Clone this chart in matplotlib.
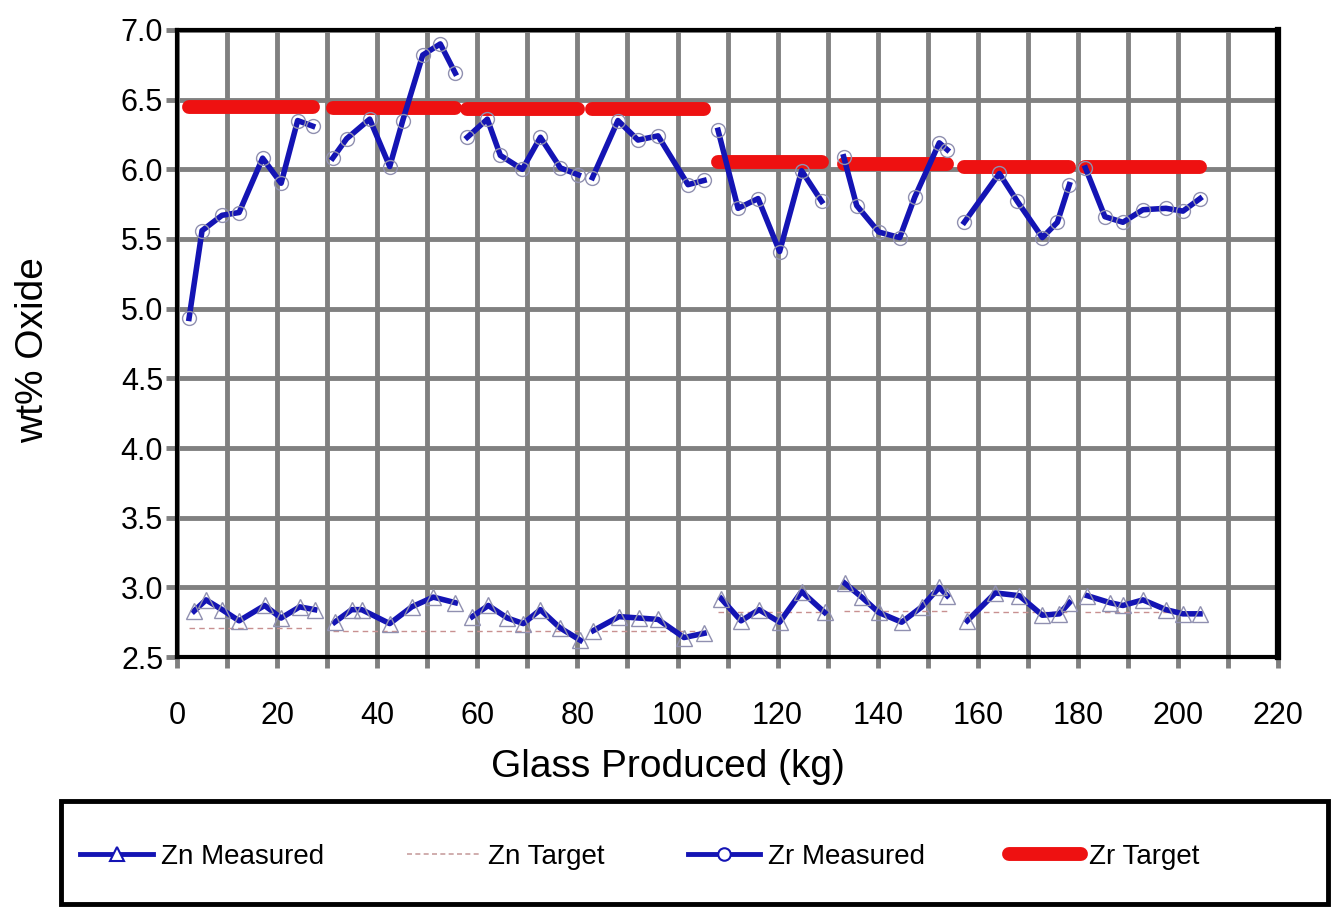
import numpy as np
import matplotlib
matplotlib.use('Agg')
import matplotlib.pyplot as plt
from matplotlib.lines import Line2D
from matplotlib.patches import Rectangle

plt.rcParams['font.family'] = ['Liberation Sans', 'DejaVu Sans']

# Zr measured, one list per batch
zr_x = [[2.4, 5.0, 9.0, 12.4, 17.1, 20.8, 24.1, 27.1],
        [31.1, 33.9, 38.5, 42.5, 45.1, 49.1, 52.6, 55.6],
        [58.0, 62.0, 64.6, 69.0, 72.6, 76.6, 80.2],
        [83.0, 88.1, 92.1, 96.1, 102.1, 105.3],
        [108.1, 112.1, 116.1, 120.4, 124.8, 128.8],
        [133.2, 135.8, 140.2, 144.4, 147.4, 152.3, 153.9],
        [157.3, 164.3, 167.9, 172.9, 175.9, 178.3],
        [181.5, 185.4, 189.0, 193.0, 197.6, 201.0, 204.4]]
zr_y = [[4.93, 5.56, 5.67, 5.69, 6.08, 5.90, 6.35, 6.31],
        [6.08, 6.22, 6.36, 6.02, 6.35, 6.82, 6.90, 6.69],
        [6.23, 6.36, 6.10, 6.00, 6.23, 6.01, 5.96],
        [5.94, 6.35, 6.21, 6.24, 5.89, 5.92],
        [6.28, 5.72, 5.79, 5.41, 5.99, 5.77],
        [6.09, 5.74, 5.55, 5.51, 5.80, 6.19, 6.14],
        [5.62, 5.97, 5.77, 5.51, 5.62, 5.89],
        [6.01, 5.66, 5.62, 5.71, 5.72, 5.70, 5.79]]

# Zn measured, one list per batch
zn_x = [[3.4, 5.8, 9.0, 12.4, 17.5, 20.8, 24.5, 27.5],
        [31.5, 34.9, 36.9, 42.5, 46.9, 51.2, 55.6],
        [59.0, 62.2, 66.0, 69.2, 72.6, 76.5, 80.6],
        [83.2, 88.3, 92.3, 96.1, 101.3, 105.3],
        [108.7, 112.7, 116.3, 120.4, 124.8, 129.4],
        [133.4, 136.8, 140.2, 144.8, 148.8, 152.3, 153.9],
        [157.9, 163.5, 168.3, 172.9, 176.3, 178.3],
        [181.9, 186.4, 189.0, 193.0, 197.6, 201.0, 204.4]]
zn_y = [[2.83, 2.91, 2.84, 2.76, 2.87, 2.78, 2.86, 2.84],
        [2.75, 2.84, 2.84, 2.74, 2.86, 2.93, 2.89],
        [2.79, 2.87, 2.78, 2.74, 2.84, 2.71, 2.62],
        [2.69, 2.79, 2.78, 2.77, 2.64, 2.67],
        [2.92, 2.76, 2.84, 2.75, 2.97, 2.82],
        [3.03, 2.93, 2.82, 2.75, 2.86, 3.00, 2.94],
        [2.76, 2.96, 2.94, 2.80, 2.81, 2.89],
        [2.94, 2.89, 2.87, 2.91, 2.84, 2.81, 2.81]]

# batch targets
zr_target = [6.45, 6.44, 6.43, 6.43, 6.05, 6.04, 6.02, 6.02]
zn_target = [2.71, 2.69, 2.69, 2.69, 2.82, 2.83, 2.82, 2.82]

blue = '#1414b4'
red = '#ee1111'

fig = plt.figure(figsize=(13.33, 9.08), dpi=100)
ax = fig.add_axes([0.1328, 0.2764, 0.8260, 0.6906])

for i in range(len(zr_x)):
    x0, x1 = zr_x[i][0], zr_x[i][-1]
    ax.plot([x0, x1], [zn_target[i], zn_target[i]], ls=(0, (4, 3)), lw=1.0,
            color='#c89090', zorder=3)
    ax.plot([x0, x1], [zr_target[i], zr_target[i]], lw=10, color=red,
            solid_capstyle='round', zorder=4)
    ax.plot(zn_x[i], zn_y[i], color=blue, lw=4, marker='^', ms=11,
            mfc='none', mec='#9090b0', mew=1.0, zorder=5)
    ax.plot(zr_x[i], zr_y[i], color=blue, lw=4, marker='o', ms=10,
            mfc='none', mec='#9090b0', mew=1.0, zorder=5)

ax.set_xlim(0, 220)
ax.set_ylim(2.5, 7.0)
ax.set_xticks(np.arange(0, 221, 20))
ax.set_xticks(np.arange(10, 220, 20), minor=True)
ax.set_yticks(np.arange(2.5, 7.01, 0.5))
ax.set_yticklabels(['%.1f' % v for v in np.arange(2.5, 7.01, 0.5)])
ax.grid(True, which='both', color='#808080', lw=3.5, zorder=1)
ax.set_axisbelow(True)
ax.tick_params(which='both', direction='out', length=8, width=3.5,
               color='#808080', labelsize=22, pad=2)
ax.tick_params(axis='x', pad=24)

for s in ['left', 'bottom', 'top']:
    ax.spines[s].set_linewidth(3)
ax.spines['right'].set_linewidth(4.5)
for s in ax.spines.values():
    s.set_color('black')
    s.set_zorder(6)

ax.set_xlabel('Glass Produced (kg)', fontsize=28)
ax.set_ylabel('wt% Oxide', fontsize=28)
ax.xaxis.set_label_coords(0.446, -0.146)
ax.yaxis.set_label_coords(-0.1145, 0.49)

# legend box
fig.patches.append(Rectangle((0.046, 0.004), 0.950, 0.114, transform=fig.transFigure,
                             fill=False, edgecolor='black', lw=3.5))

handles = [
    Line2D([], [], color=blue, lw=3.5, marker='^', ms=10, mfc='white', mec=blue, mew=1.5),
    Line2D([], [], color='#c8a0a0', lw=1.2, ls=(0, (3, 2))),
    Line2D([], [], color=blue, lw=3.5, marker='o', ms=9, mfc='white', mec=blue, mew=1.5),
    Line2D([], [], color=red, lw=10, solid_capstyle='round'),
]
labels = ['Zn Measured', 'Zn Target', 'Zr Measured', 'Zr Target']
leg = fig.legend(handles, labels, loc='center left', ncol=4,
                 bbox_to_anchor=(0.052, 0.056),
                 prop={'size': 20},
                 handlelength=2.6, handletextpad=0.3, columnspacing=3.0,
                 borderaxespad=0, frameon=False)

fig.savefig('out.png', dpi=100)
